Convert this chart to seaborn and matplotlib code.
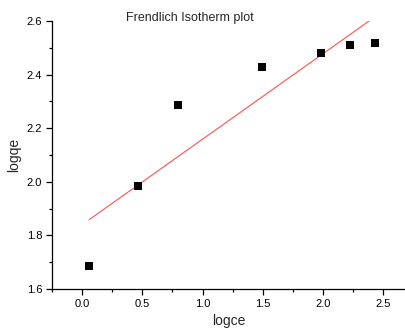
import matplotlib
matplotlib.use("Agg")
import matplotlib.pyplot as plt
from matplotlib.ticker import MultipleLocator, FormatStrFormatter
import numpy as np
import pandas as pd
import seaborn as sns

# Freundlich isotherm data (log Ce vs log qe)
logce = [0.058, 0.465, 0.800, 1.494, 1.986, 2.224, 2.432]
logqe = [1.687, 1.985, 2.287, 2.428, 2.481, 2.510, 2.518]
title = "Frendlich Isotherm plot"

df = pd.DataFrame({"logce": logce, "logqe": logqe})

sns.set_theme(style="ticks")
plt.rcParams["font.family"] = ["Liberation Sans", "DejaVu Sans"]

fig = plt.figure(figsize=(4.06, 3.29), dpi=100)
ax = fig.add_axes([0.1281, 0.1216, 0.8719, 0.8146])

# linear fit over the data range
sns.regplot(data=df, x="logce", y="logqe", ax=ax, scatter=False, ci=None,
            truncate=True, line_kws=dict(color="#ff5050", lw=0.8))
sns.scatterplot(data=df, x="logce", y="logqe", ax=ax, marker="s", s=26,
                color="black", edgecolor="black", linewidth=0, zorder=3)

ax.set_xlim(-0.25, 2.69)
ax.set_ylim(1.6, 2.6)
ax.xaxis.set_major_locator(MultipleLocator(0.5))
ax.xaxis.set_minor_locator(MultipleLocator(0.25))
ax.yaxis.set_major_locator(MultipleLocator(0.2))
ax.yaxis.set_minor_locator(MultipleLocator(0.1))
ax.xaxis.set_major_formatter(FormatStrFormatter("%.1f"))
ax.yaxis.set_major_formatter(FormatStrFormatter("%.1f"))

ax.tick_params(which="major", direction="out", length=4, width=0.9,
               labelsize=8, color="black", labelcolor="black", pad=3)
ax.tick_params(which="minor", direction="out", length=2.2, width=0.9, color="black")

for side in ("top", "right"):
    ax.spines[side].set_visible(False)
for side in ("left", "bottom"):
    ax.spines[side].set_linewidth(0.9)
    ax.spines[side].set_color("black")

ax.set_xlabel("logce", fontsize=10, labelpad=4)
ax.set_ylabel("logqe", fontsize=10, labelpad=4)

fig.text(0.468, 0.945, title, ha="center", va="center", fontsize=9)

fig.savefig("out.png", dpi=100)
